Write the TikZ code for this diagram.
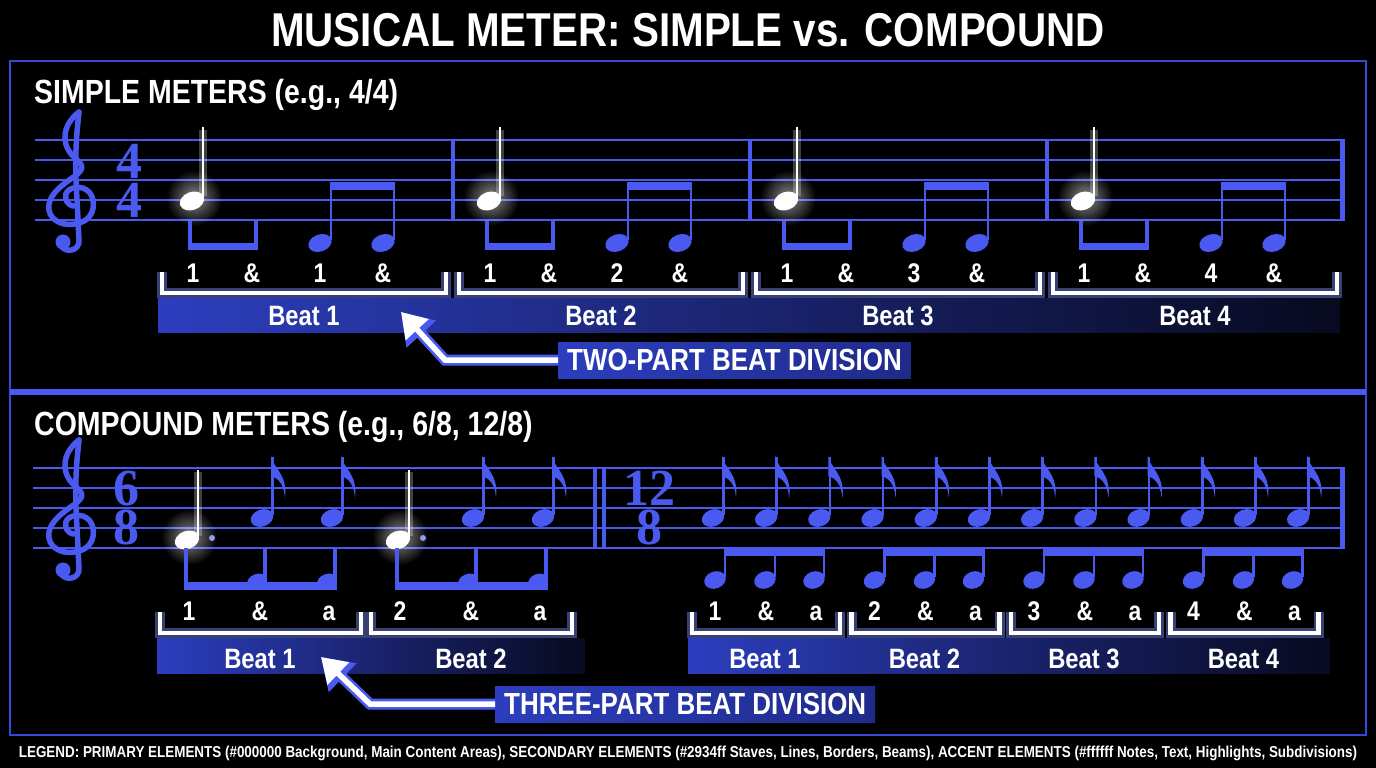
\documentclass[tikz,border=0pt]{standalone}
\usepackage{fontspec}
\newfontfamily\narrowsans[FakeStretch=0.85]{Liberation Sans}
\newfontfamily\sigserif{Liberation Serif}
\usetikzlibrary{arrows.meta,positioning,fadings}
\definecolor{meterblue}{HTML}{4A5AF0}
\definecolor{borderblue}{HTML}{3848D8}
\definecolor{glowblue}{HTML}{8090FF}
\definecolor{bandblue}{HTML}{2C3EBE}
\definecolor{banddeep}{HTML}{1F2B8A}
\definecolor{bandnight}{HTML}{080A20}
\tikzfading[name=glowfade, inner color=transparent!0, outer color=transparent!100]

\begin{document}
\begin{tikzpicture}[x=1pt, y=-1pt,
    staffline/.style={meterblue, line width=2},
    barline/.style={meterblue, line width=3.5},
    endbar/.style={meterblue, line width=5},
    clefline/.style={meterblue, line width=5.5, line cap=round},
    stemline/.style={meterblue, line width=2.6},
    whitestem/.style={white, line width=2.8},
    noteglow/.style={white, fill opacity=0.55, path fading=glowfade},
    bracketglow/.style={glowblue, opacity=0.45, line width=10},
    bracketline/.style={white, line width=4.5},
    arrowglow/.style={meterblue, line width=11, -{Triangle[length=30pt,width=38pt]}},
    arrowbody/.style={white, line width=5.5, -{Triangle[length=24pt,width=30pt]}},
    titletext/.style={text=white, inner sep=0pt, anchor=base, font=\narrowsans\bfseries\fontsize{47.5}{50}\selectfont},
    headtext/.style={text=white, inner sep=0pt, anchor=base west, font=\narrowsans\bfseries\fontsize{33.5}{36}\selectfont},
    counttext/.style={text=white, inner sep=0pt, anchor=base, font=\narrowsans\bfseries\fontsize{27}{30}\selectfont},
    beattext/.style={text=white, inner sep=0pt, anchor=base, font=\narrowsans\bfseries\fontsize{28}{30}\selectfont},
    sigtext/.style={text=meterblue, inner sep=0pt, align=center, font=\sigserif\bfseries\fontsize{52}{39.5}\selectfont},
    divbox/.style={text=white, left color=bandblue, right color=banddeep, anchor=west,
      minimum height=36, inner xsep=9, inner ysep=0, font=\narrowsans\bfseries\fontsize{30.5}{32}\selectfont},
    legendtext/.style={text=white, inner sep=0pt, anchor=base, font=\narrowsans\bfseries\fontsize{15.8}{17}\selectfont}]

\fill[black] (0,0) rectangle (1376,768);
\useasboundingbox (0,0) rectangle (1376,768);

\node[titletext] (title) at (688,47) {MUSICAL METER: SIMPLE vs. COMPOUND};

% panels
\draw[borderblue, line width=2.5] (10,61) rectangle (1366,735);
\draw[meterblue, line width=6] (10,392) -- (1366,392);

\node[headtext] (simplehead) at (34,103) {SIMPLE METERS (e.g., 4/4)};
\node[headtext] (compoundhead) at (34,435) {COMPOUND METERS (e.g., 6/8, 12/8)};

% staves
\foreach \y in {140,160,...,220} \draw[staffline] (35,\y) -- (1342,\y);
\foreach \y in {468,488,...,548} \draw[staffline] (33,\y) -- (1342,\y);
\foreach \x in {453,750,1047} \draw[barline] (\x,140) -- (\x,220);
\draw[endbar] (1342,139) -- (1342,221);
\draw[barline] (595,468) -- (595,548);
\draw[barline] (604,468) -- (604,548);
\draw[endbar] (1342,467) -- (1342,549);

% treble clefs
\foreach \t in {140,468}{
  \begin{scope}[shift={(71,\t)}]
    \draw[clefline] (8,-28)
      .. controls (-10,-14) and (-10,6) .. (4,18)
      .. controls (14,26) and (12,30) .. (4,36)
      .. controls (-14,48) and (-24,58) .. (-22,70)
      .. controls (-20,82) and (-6,86) .. (4,84)
      .. controls (18,82) and (24,72) .. (22,60)
      .. controls (20,48) and (6,44) .. (-2,50)
      .. controls (-8,54) and (-6,64) .. (2,66);
    \draw[clefline] (8,-28) .. controls (6,-10) and (4,10) .. (5,40) -- (8,100)
      .. controls (9,110) and (-4,114) .. (-10,106);
    \fill[meterblue] (-8,102) circle (7.5);
  \end{scope}
}

% time signatures
\node[sigtext] (sigfour) at (129,181) {4\\4};
\node[sigtext] (sigsix) at (126,508) {6\\8};
\node[sigtext] (sigtwelve) at (649,508) {12\\8};

% beat bands
\shade[left color=bandblue, middle color=banddeep, right color=bandnight] (158,298) rectangle (1340,332);
\shade[left color=bandblue, right color=bandnight] (157,638) rectangle (585,673);
\shade[left color=bandblue, middle color=banddeep, right color=bandnight] (688,638) rectangle (1330,673);

% simple meter measures
\foreach \k/\n in {0/1,1/2,2/3,3/4}{
  \begin{scope}[xshift=297*\k]
    \fill[noteglow] (194,198) circle (28);
    \draw[white, opacity=0.25, line width=8] (203,196) -- (203,130);
    \draw[whitestem] (203,199) -- (203,127);
    \fill[white, rotate around={20:(192,201)}] (192,201) ellipse (12.5 and 9);
    \draw[meterblue, line width=4] (190,221) -- (190,246);
    \draw[meterblue, line width=4] (256,221) -- (256,246);
    \fill[meterblue] (188,243) rectangle (258,250);
    \fill[meterblue, rotate around={20:(320,243)}] (320,243) ellipse (12 and 8.5);
    \fill[meterblue, rotate around={20:(383,243)}] (383,243) ellipse (12 and 8.5);
    \draw[stemline] (331,240) -- (331,183);
    \draw[stemline] (394,240) -- (394,183);
    \fill[meterblue] (329.7,182) rectangle (395.3,190);
    \node[counttext] (sc\n-1) at (193,282) {1};
    \node[counttext] (sc\n-2) at (252,282) {\&};
    \node[counttext] (sc\n-3) at (320,282) {\n};
    \node[counttext] (sc\n-4) at (383,282) {\&};
    \draw[bracketglow] (162,272) |- (446,293) -- (446,272);
    \draw[bracketline] (162,272) |- (446,293) -- (446,272);
    \node[beattext] (sbeat\n) at (304,325) {Beat \n};
  \end{scope}
}

\node[divbox] (twopart) at (558,360) {TWO-PART BEAT DIVISION};
\coordinate (twobend) at (445,360);
\coordinate (twotip) at (401,312);
\draw[arrowglow] (twopart.west) -- (twobend) -- (twotip);
\draw[arrowbody] (twopart.west) -- (twobend) -- (twotip);

% compound 6/8
\foreach \k/\n in {0/1,1/2}{
  \begin{scope}[xshift=211*\k]
    \fill[noteglow] (189,537) circle (28);
    \draw[white, opacity=0.25, line width=8] (198,536) -- (198,472);
    \draw[whitestem] (198,538) -- (198,470);
    \fill[white, rotate around={20:(187,540)}] (187,540) ellipse (12.5 and 9);
    \fill[meterblue!60!white] (212,538) circle (3);
    \foreach \s in {0,70}{
      \fill[meterblue, rotate around={20:(262+\s,518)}] (262+\s,518) ellipse (11.5 and 8.5);
      \draw[stemline] (272.5+\s,515) -- (272.5+\s,457);
      \fill[meterblue] (271+\s,456) .. controls (273+\s,468) and (288+\s,474) .. (285+\s,498)
        .. controls (284+\s,484) and (278+\s,478) .. (271+\s,476) -- cycle;
    }
    \draw[meterblue, line width=3.5] (186,548) -- (186,588);
    \draw[meterblue, line width=3.5] (265,548) -- (265,588);
    \draw[meterblue, line width=3.5] (335,548) -- (335,588);
    \fill[meterblue, rotate around={20:(257,581)}] (257,581) ellipse (10 and 7);
    \fill[meterblue, rotate around={20:(327,581)}] (327,581) ellipse (10 and 7);
    \fill[meterblue] (184,582) rectangle (337,590);
    \node[counttext] (cc\n-1) at (189,620) {\n};
    \node[counttext] (cc\n-2) at (260,620) {\&};
    \node[counttext] (cc\n-3) at (329,620) {a};
    \draw[bracketglow] (160,612) |- (361,633) -- (361,612);
    \draw[bracketline] (160,612) |- (361,633) -- (361,612);
    \node[beattext] (cbeat\n) at (260,668) {Beat \n};
  \end{scope}
}

% compound 12/8
\foreach \i in {0,...,11}{
  \begin{scope}[xshift=53.2*\i]
    \fill[meterblue, rotate around={20:(713,518)}] (713,518) ellipse (11.5 and 8.5);
    \draw[stemline] (723.5,515) -- (723.5,457);
    \fill[meterblue] (722,456) .. controls (724,468) and (739,474) .. (736,498)
      .. controls (735,484) and (729,478) .. (722,476) -- cycle;
  \end{scope}
}
\foreach \g/\n in {0/1,1/2,2/3,3/4}{
  \begin{scope}[xshift=159.5*\g]
    \foreach \s in {0,50,99}{
      \fill[meterblue, rotate around={20:(715+\s,580)}] (715+\s,580) ellipse (11 and 8.5);
      \draw[stemline] (725+\s,577) -- (725+\s,551);
    }
    \fill[meterblue] (723.7,549) rectangle (825.3,556);
    \node[counttext] (tc\n-1) at (715,620) {\n};
    \node[counttext] (tc\n-2) at (766,620) {\&};
    \node[counttext] (tc\n-3) at (816,620) {a};
    \draw[bracketglow] (692,612) |- (840,633) -- (840,612);
    \draw[bracketline] (692,612) |- (840,633) -- (840,612);
    \node[beattext] (tbeat\n) at (765,668) {Beat \n};
  \end{scope}
}

\node[divbox] (threepart) at (495,704) {THREE-PART BEAT DIVISION};
\coordinate (threebend) at (370,704);
\coordinate (threetip) at (321,657);
\draw[arrowglow] (threepart.west) -- (threebend) -- (threetip);
\draw[arrowbody] (threepart.west) -- (threebend) -- (threetip);

\node[legendtext] (legend) at (688,757) {LEGEND: PRIMARY ELEMENTS (\#000000 Background, Main Content Areas), SECONDARY ELEMENTS (\#2934ff Staves, Lines, Borders, Beams), ACCENT ELEMENTS (\#ffffff Notes, Text, Highlights, Subdivisions)};
\end{tikzpicture}
\end{document}
